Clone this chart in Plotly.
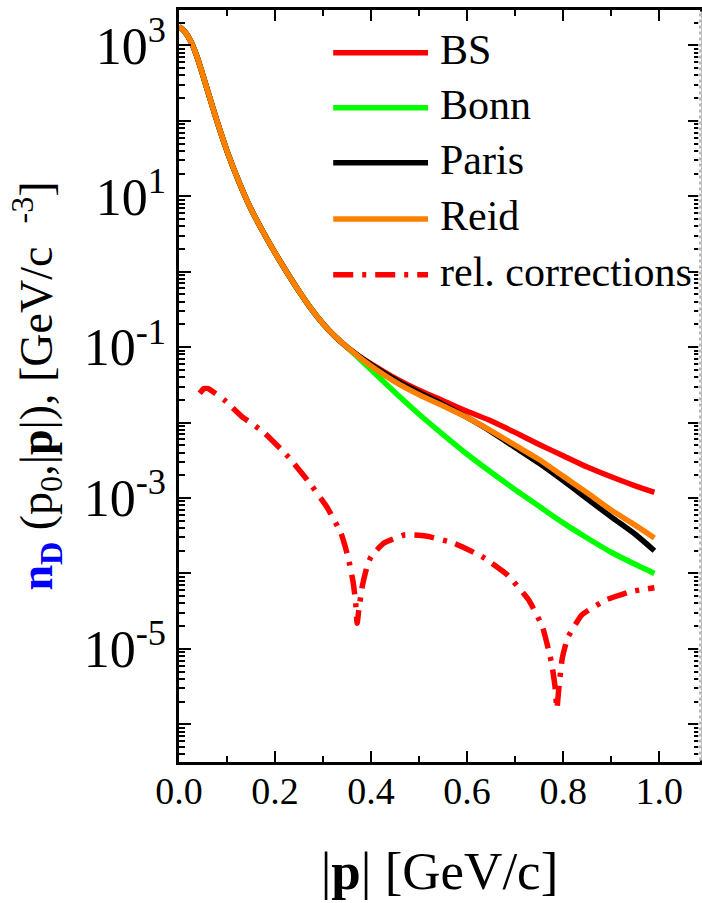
import plotly.graph_objects as go

# ---------------- data ----------------
# common part of the four deuteron momentum distributions
x_common = [0.0, 0.0125, 0.025, 0.0375, 0.05, 0.075, 0.1, 0.125, 0.15, 0.175,
            0.2, 0.225, 0.25, 0.275, 0.3, 0.325, 0.35]
n_common = [1778, 1514, 1122, 708, 398, 120, 39.8, 15.5, 6.76, 3.39,
            1.78, 0.977, 0.550, 0.324, 0.204, 0.138, 0.100]

# tails, where the models differ
x_tail = [0.375, 0.4, 0.45, 0.5, 0.55, 0.6, 0.65, 0.7, 0.75, 0.8, 0.85, 0.9, 0.95, 0.99]
n_bs = [0.0759, 0.0603, 0.0389, 0.0269, 0.0195, 0.0141, 0.0105, 0.00741, 0.00513,
        0.00363, 0.00257, 0.00191, 0.00145, 0.00119]
n_bonn = [0.0708, 0.0501, 0.0251, 0.0129, 0.00692, 0.00380, 0.00219, 0.00129,
          0.000776, 0.000468, 0.000295, 0.000191, 0.000132, 0.000100]
n_paris = [0.0759, 0.0589, 0.0372, 0.0251, 0.0174, 0.0117, 0.00759, 0.00468,
           0.00288, 0.00170, 0.000977, 0.000562, 0.000331, 0.000200]
n_reid = [0.0741, 0.0562, 0.0347, 0.0234, 0.0166, 0.0117, 0.00776, 0.00501,
          0.00324, 0.00195, 0.00117, 0.000692, 0.000437, 0.000295]

# relativistic corrections
x_rel = [0.043, 0.052, 0.061, 0.075, 0.094, 0.131, 0.175, 0.227, 0.267, 0.308,
         0.3375, 0.352, 0.363, 0.368, 0.371, 0.375, 0.382, 0.392, 0.40, 0.426,
         0.47, 0.514, 0.573, 0.632, 0.684, 0.728, 0.757, 0.776, 0.783, 0.787,
         0.791, 0.798, 0.809, 0.839, 0.89, 0.942, 0.99]
n_rel = [0.0245, 0.0282, 0.0282, 0.0245, 0.0200, 0.0120, 0.00759, 0.00355,
         0.00174, 0.000759, 0.000339, 0.000166, 7.41e-5, 4.0e-5, 2.19e-5,
         3.5e-5, 6.9e-5, 1.26e-4, 1.66e-4, 2.51e-4, 3.24e-4, 3.13e-4, 2.51e-4,
         1.66e-4, 9.55e-5, 4.47e-5, 1.95e-5, 6.46e-6, 3.2e-6, 1.62e-6, 3.0e-6,
         7.4e-6, 1.38e-5, 2.82e-5, 4.47e-5, 5.75e-5, 6.46e-5]

series_names = ["BS", "Bonn", "Paris", "Reid"]
series_tails = [n_bs, n_bonn, n_paris, n_reid]
series_colors = ["#ff0000", "#00ff00", "#000000", "#ff8000"]
rel_name = "rel. corrections"
rel_color = "#ff0000"

y_label_exps = [3, 1, -1, -3, -5]
x_tick_vals = [0.0, 0.2, 0.4, 0.6, 0.8, 1.0]
x_tick_labels = ["0.0", "0.2", "0.4", "0.6", "0.8", "1.0"]

# ---------------- figure ----------------
FONT = "Liberation Serif"
LW = 5.5
DASHDOT = "20px,9px,4px,9px"
YRANGE = [-6.5, 3.47]

fig = go.Figure()
for name, tail, col in zip(series_names, series_tails, series_colors):
    fig.add_trace(go.Scatter(
        x=x_common + x_tail, y=n_common + tail, mode="lines", name=name,
        line=dict(color=col, width=LW, shape="spline", smoothing=0.7),
        showlegend=False))
fig.add_trace(go.Scatter(
    x=x_rel, y=n_rel, mode="lines", name=rel_name,
    line=dict(color=rel_color, width=LW, dash=DASHDOT, shape="spline", smoothing=0.4),
    showlegend=False))

# y ticks: long tick at every decade, labels every second decade
major_vals = [10.0 ** k for k in range(3, -7, -1)]
label_vals = [10.0 ** k for k in y_label_exps]
label_text = ["10<sup>%d</sup>" % k for k in y_label_exps]
minor_vals = [d * 10.0 ** k for k in range(-7, 4) for d in range(2, 10)]

fig.update_layout(
    yaxis=dict(
        type="log", range=YRANGE,
        tickmode="array", tickvals=major_vals, showticklabels=False,
        ticks="inside", ticklen=12, tickwidth=2, tickcolor="black",
        minor=dict(tickmode="array", tickvals=minor_vals, ticks="inside",
                   ticklen=6, tickwidth=1.5, tickcolor="black"),
        showline=True, linecolor="black", linewidth=2.5, mirror="ticks",
        showgrid=False, zeroline=False, automargin=False,
    ),
    yaxis2=dict(
        type="log", range=YRANGE, overlaying="y", side="left", anchor="x",
        tickmode="array", tickvals=label_vals, ticktext=label_text,
        ticks="", showline=False, showgrid=False, zeroline=False,
        tickfont=dict(family=FONT, size=52, color="black"),
        ticklabelstandoff=12, automargin=False,
        title=dict(
            text="<span style='color:#0000ff'><b>n<sub>D</sub></b></span> "
                 "(p<sub>0</sub>,|<b>p</b>|), [GeV/c  <sup>-3</sup>]",
            font=dict(family=FONT, size=46, color="black"), standoff=16),
    ),
)
# invisible carrier so the label axis is drawn
fig.add_trace(go.Scatter(x=[0.5], y=[1.0], yaxis="y2", mode="markers",
                         marker=dict(opacity=0), hoverinfo="skip", showlegend=False))

fig.update_xaxes(
    range=[0, 1.085],
    tickmode="array", tickvals=x_tick_vals, ticktext=x_tick_labels,
    ticks="inside", ticklen=11, tickwidth=2, tickcolor="black",
    minor=dict(tickmode="array", tickvals=[0.1, 0.3, 0.5, 0.7, 0.9],
               ticks="inside", ticklen=6, tickwidth=1.5, tickcolor="black"),
    showline=True, linecolor="black", linewidth=2.5, mirror="ticks",
    showgrid=False, zeroline=False,
    tickfont=dict(family=FONT, size=38, color="black"),
    ticklabelstandoff=-6,
    automargin=False,
    title=dict(text="|<b>p</b>| [GeV/c]",
               font=dict(family=FONT, size=53, color="black"), standoff=41),
)

# right frame drawn as a dotted grey line (as in the reference)
fig.add_shape(type="line", xref="paper", yref="paper", x0=1, x1=1, y0=0.002, y1=0.998,
              line=dict(color="white", width=3.5), layer="above")
fig.add_shape(type="line", xref="paper", yref="paper", x0=1, x1=1, y0=0.002, y1=0.998,
              line=dict(color="#888888", width=1.2, dash="dot"), layer="above")

# hand-made legend with long line samples
leg_y = [0.943, 0.870, 0.797, 0.722, 0.648]
leg_names = series_names + [rel_name]
leg_colors = series_colors + [rel_color]
leg_dash = ["solid"] * 4 + [DASHDOT]
for yy, nm, col, ds in zip(leg_y, leg_names, leg_colors, leg_dash):
    fig.add_shape(type="line", xref="paper", yref="paper", x0=0.296, x1=0.478,
                  y0=yy, y1=yy, line=dict(color=col, width=LW, dash=ds), layer="above")
    fig.add_annotation(xref="paper", yref="paper", x=0.497, y=yy + 0.004, text=nm,
                       showarrow=False, xanchor="left", yanchor="middle",
                       font=dict(family=FONT, size=42, color="black"))

fig.update_layout(
    width=702, height=903,
    margin=dict(l=179, r=2, t=10, b=141),
    paper_bgcolor="white", plot_bgcolor="white",
    showlegend=False,
)

fig.write_html("out.html")
